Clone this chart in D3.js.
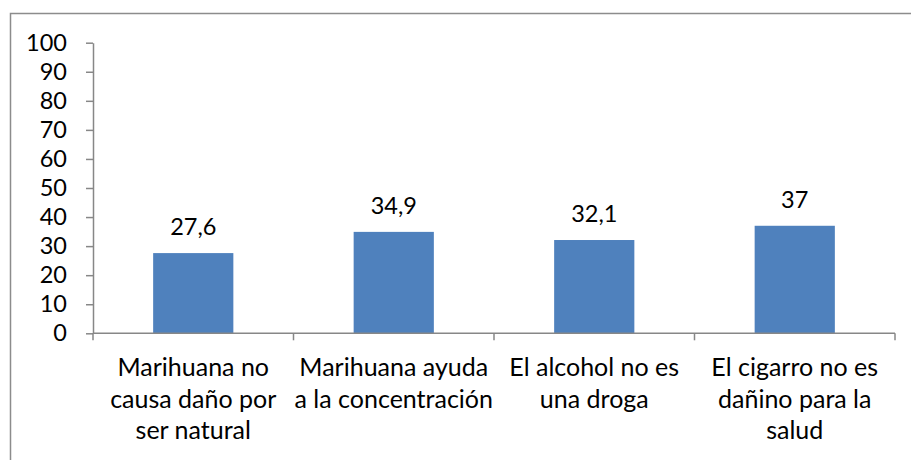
<!DOCTYPE html>
<html>
<head>
<meta charset="utf-8">
<script src="https://cdn.jsdelivr.net/npm/d3@7/dist/d3.min.js"></script>
<style>
  html, body { margin: 0; padding: 0; background: #fff; }
  svg { display: block; }
  text { font-family: Lato, "Open Sans", sans-serif; fill: #000; }
</style>
</head>
<body>
<svg id="chart" width="911" height="460"></svg>
<script>
const categories = [
  "Marihuana no causa daño por ser natural",
  "Marihuana ayuda a la concentración",
  "El alcohol no es una droga",
  "El cigarro no es dañino para la salud"
];
const categoryLines = [
  ["Marihuana no", "causa daño por", "ser natural"],
  ["Marihuana ayuda", "a la concentración"],
  ["El alcohol no es", "una droga"],
  ["El cigarro no es", "dañino para la", "salud"]
];
const values = [27.6, 34.9, 32.1, 37];
const valueLabels = ["27,6", "34,9", "32,1", "37"];
const yTicks = [0, 10, 20, 30, 40, 50, 60, 70, 80, 90, 100];

const svg = d3.select("#chart");
const axisColor = "#878787";
const numSize = 23.5;
const catSize = 25;

// outer frame (left and top visible)
svg.append("path")
  .attr("d", "M10.5,470 L10.5,13.5 L920,13.5")
  .attr("fill", "none")
  .attr("stroke", "#8c8c8c")
  .attr("stroke-width", 1.5);

const x = d3.scaleBand()
  .domain(categories)
  .range([93, 895])
  .paddingInner(0.6)
  .paddingOuter(0.3);

const y = d3.scaleLinear().domain([0, 100]).range([333.3, 42.7]);

// bars
svg.append("g").selectAll("rect")
  .data(values)
  .join("rect")
  .attr("x", (d, i) => x(categories[i]))
  .attr("width", x.bandwidth())
  .attr("y", d => y(d))
  .attr("height", d => y(0) - y(d))
  .attr("fill", "#4F81BD");

// y axis
const yAxis = d3.axisLeft(y).tickValues(yTicks).tickSize(7).tickSizeOuter(0).tickPadding(19);
const gy = svg.append("g").attr("transform", "translate(93,0)").call(yAxis);
gy.select(".domain").attr("stroke", axisColor).attr("stroke-width", 1.5);
gy.selectAll(".tick line").attr("stroke", axisColor).attr("stroke-width", 1.5);
gy.selectAll(".tick text")
  .attr("font-size", numSize)
  .attr("font-family", "Lato, sans-serif")
  .attr("fill", "#000");

// x axis baseline
svg.append("line")
  .attr("x1", 93).attr("x2", 895)
  .attr("y1", y(0)).attr("y2", y(0))
  .attr("stroke", axisColor).attr("stroke-width", 1.5);

// category boundary ticks
const step = x.step();
const boundaries = d3.range(categories.length + 1).map(i => i === 0 ? 93 : x(categories[i - 1]) + x.bandwidth() + (step - x.bandwidth()) / 2);
svg.append("g").selectAll("line")
  .data(boundaries)
  .join("line")
  .attr("x1", d => d).attr("x2", d => d)
  .attr("y1", y(0)).attr("y2", y(0) + 7)
  .attr("stroke", axisColor).attr("stroke-width", 1.5);

// category labels
const catG = svg.append("g");
categoryLines.forEach((lines, i) => {
  const cx = x(categories[i]) + x.bandwidth() / 2;
  const t = catG.append("text")
    .attr("text-anchor", "middle")
    .attr("font-size", catSize);
  lines.forEach((ln, j) => {
    t.append("tspan").attr("x", cx).attr("y", 376 + j * 31.5).text(ln);
  });
});

// value labels
svg.append("g").selectAll("text")
  .data(values)
  .join("text")
  .attr("x", (d, i) => x(categories[i]) + x.bandwidth() / 2)
  .attr("y", d => y(d) - 18)
  .attr("text-anchor", "middle")
  .attr("font-size", numSize)
  .text((d, i) => valueLabels[i]);
</script>
</body>
</html>
